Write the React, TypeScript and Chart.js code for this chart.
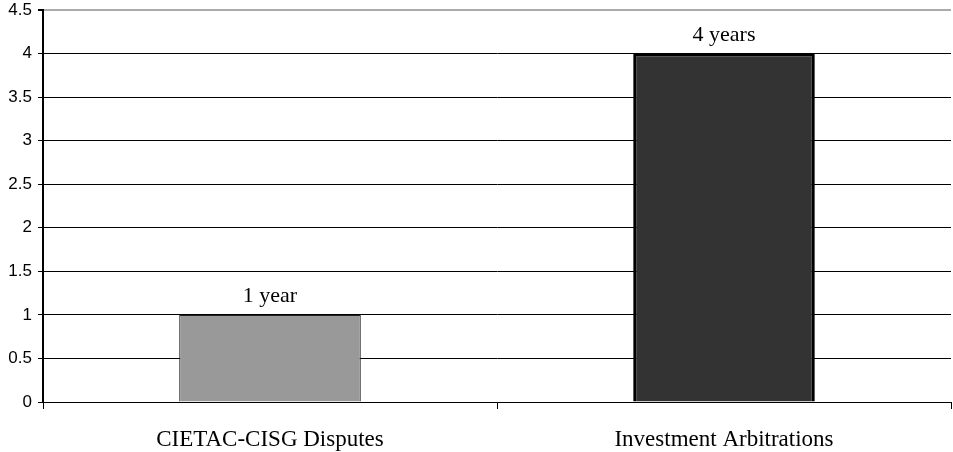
import React, { useEffect, useRef } from "react";
import { Chart, registerables } from "chart.js";

Chart.register(...registerables);

const categories = ["CIETAC-CISG Disputes", "Investment Arbitrations"];
const values = [1, 4];
const valueLabels = ["1 year", "4 years"];
const yTicks = [0, 0.5, 1, 1.5, 2, 2.5, 3, 3.5, 4, 4.5];
const barColors = ["#999999", "#333333"];
const barBorders = ["#222222", "#000000"];
const borderWidths = [1, 3];

const labelPlugin = {
  id: "barLabels",
  afterDatasetsDraw(chart: any) {
    const ctx = chart.ctx;
    const meta = chart.getDatasetMeta(0);
    ctx.save();
    ctx.font = "22px 'Liberation Serif', serif";
    ctx.fillStyle = "#000";
    ctx.textAlign = "center";
    ctx.textBaseline = "alphabetic";
    meta.data.forEach((bar: any, i: number) => {
      ctx.fillText(valueLabels[i], bar.x, bar.y - 13);
    });
    ctx.restore();
  },
};

export default function App() {
  const ref = useRef<HTMLCanvasElement>(null);
  useEffect(() => {
    document.body.style.margin = "0";
    const chart = new Chart(ref.current!, {
      type: "bar",
      data: {
        labels: categories,
        datasets: [
          {
            data: values,
            backgroundColor: barColors,
            borderColor: barBorders,
            borderWidth: borderWidths,
            categoryPercentage: 0.8,
            barPercentage: 0.5,
          },
        ],
      },
      options: {
        animation: false,
        responsive: false,
        layout: { padding: { top: 10, right: 2, left: 0, bottom: 0 } },
        plugins: { legend: { display: false }, tooltip: { enabled: false } },
        scales: {
          x: {
            offset: true,
            grid: {
              offset: true,
              drawOnChartArea: false,
              drawTicks: true,
              tickLength: 7,
              color: "#000",
            },
            border: { color: "#000", width: 1 },
            ticks: {
              color: "#000",
              padding: 17,
              font: { family: "'Liberation Serif', serif", size: 23 },
            },
            afterFit: (s: any) => {
              s.height = 50;
              s.paddingLeft = 0;
              s.paddingRight = 0;
            },
          },
          y: {
            min: 0,
            max: 4.5,
            afterBuildTicks: (s: any) => {
              s.ticks = yTicks.map((v) => ({ value: v }));
            },
            ticks: {
              color: "#000",
              padding: 6,
              callback: (v: any) => String(v),
              font: { family: "'Liberation Sans', Arial, sans-serif", size: 17 },
            },
            grid: {
              color: (c: any) => (c.tick && c.tick.value === 4.5 ? "#aaaaaa" : "#000"),
              lineWidth: (c: any) => (c.tick && c.tick.value === 4.5 ? 2 : 1),
              tickLength: 5,
              tickColor: "#000",
            },
            border: { color: "#000", width: 2 },
            afterFit: (s: any) => {
              s.width = 43;
              s.paddingTop = 0;
              s.paddingBottom = 0;
            },
          },
        },
      },
      plugins: [labelPlugin],
    });
    return () => chart.destroy();
  }, []);
  return <canvas ref={ref} width={953} height={452} style={{ display: "block" }} />;
}
